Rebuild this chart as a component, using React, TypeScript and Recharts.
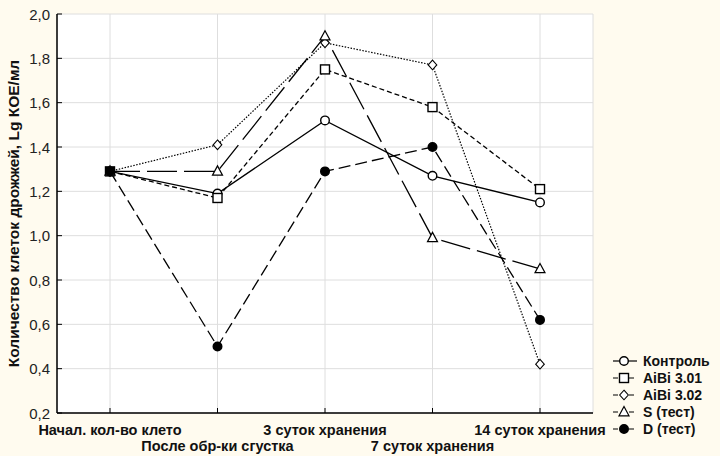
import React from 'react';
import { LineChart, Line, XAxis, YAxis, CartesianGrid } from 'recharts';

const stages = [
  'Начал. кол-во клето',
  'После обр-ки сгустка',
  '3 суток хранения',
  '7 суток хранения',
  '14 суток хранения',
];
const control = [1.29, 1.19, 1.52, 1.27, 1.15];
const aibi301 = [1.29, 1.17, 1.75, 1.58, 1.21];
const aibi302 = [1.29, 1.41, 1.87, 1.77, 0.42];
const sTest = [1.29, 1.29, 1.9, 0.99, 0.85];
const dTest = [1.29, 0.5, 1.29, 1.4, 0.62];
const yTicks = [0.2, 0.4, 0.6, 0.8, 1.0, 1.2, 1.4, 1.6, 1.8, 2.0];

const data = stages.map((name, i) => ({
  name,
  control: control[i],
  aibi301: aibi301[i],
  aibi302: aibi302[i],
  sTest: sTest[i],
  dTest: dTest[i],
}));

type Shape = 'circle' | 'square' | 'diamond' | 'triangle' | 'dot';

const series: { key: string; label: string; shape: Shape; dash?: string }[] = [
  { key: 'control', label: 'Контроль', shape: 'circle' },
  { key: 'aibi301', label: 'AiBi 3.01', shape: 'square', dash: '5 3' },
  { key: 'aibi302', label: 'AiBi 3.02', shape: 'diamond', dash: '1.5 1.5' },
  { key: 'sTest', label: 'S (тест)', shape: 'triangle', dash: '30 7' },
  { key: 'dTest', label: 'D (тест)', shape: 'dot', dash: '12 5' },
];

const font = '"Liberation Sans", Arial, sans-serif';

function Marker({ cx, cy, shape, filled }: { cx: number; cy: number; shape: Shape; filled?: boolean }) {
  const fill = filled || shape === 'dot' ? '#000' : '#fff';
  const sw = 1.4;
  if (shape === 'circle' || shape === 'dot')
    return <circle cx={cx} cy={cy} r={4.3} fill={fill} stroke="#000" strokeWidth={sw} />;
  if (shape === 'square')
    return <rect x={cx - 4.5} y={cy - 4.5} width={9} height={9} fill={fill} stroke="#000" strokeWidth={sw} />;
  if (shape === 'diamond')
    return (
      <polygon
        points={`${cx},${cy - 4.8} ${cx + 4.3},${cy} ${cx},${cy + 4.8} ${cx - 4.3},${cy}`}
        fill={fill}
        stroke="#000"
        strokeWidth={1.1}
      />
    );
  return (
    <polygon
      points={`${cx},${cy - 5.5} ${cx + 5},${cy + 3.8} ${cx - 5},${cy + 3.8}`}
      fill={fill}
      stroke="#000"
      strokeWidth={1.2}
    />
  );
}

const makeDot = (shape: Shape) => (props: any) => {
  const { cx, cy, index } = props;
  return <Marker key={`${shape}-${index}`} cx={cx} cy={cy} shape={shape} filled={shape === 'square' && index === 0} />;
};

function BottomTick(props: any) {
  const { x, y, payload, index } = props;
  const row = index % 2 === 0 ? 22 : 38;
  return (
    <g>
      <line x1={x} y1={y} x2={x} y2={y - 5} stroke="#000" />
      <text x={x} y={y + row} textAnchor="middle" fontFamily={font} fontWeight="bold" fontSize={14.5} fill="#111">
        {payload.value}
      </text>
    </g>
  );
}

function TopTick(props: any) {
  const { x, y } = props;
  return <line x1={x} y1={y} x2={x} y2={y + 5} stroke="#000" />;
}

function LeftTick(props: any) {
  const { x, y, payload } = props;
  return (
    <g>
      <line x1={x} y1={y} x2={x + 5} y2={y} stroke="#000" />
      <text x={x - 7} y={y + 5.5} textAnchor="end" fontFamily={font} fontSize={15} fill="#222">
        {payload.value.toFixed(1).replace('.', ',')}
      </text>
    </g>
  );
}

function RightTick(props: any) {
  const { x, y } = props;
  return <line x1={x} y1={y} x2={x - 5} y2={y} stroke="#000" />;
}

function YTitle(props: any) {
  const { viewBox } = props;
  const cx = 13;
  const cy = viewBox.y + viewBox.height / 2;
  return (
    <text
      x={cx}
      y={cy}
      transform={`rotate(-90 ${cx} ${cy})`}
      textAnchor="middle"
      dominantBaseline="central"
      fontFamily={font}
      fontWeight="bold"
      fontSize={15.5}
      fill="#111"
    >
      Количество клеток дрожжей, Lg КОЕ/мл
    </text>
  );
}

function LegendBox() {
  return (
    <div
      style={{
        position: 'absolute',
        left: 612,
        top: 352,
        fontFamily: font,
        fontWeight: 'bold',
        fontSize: 14,
        color: '#111',
      }}
    >
      {series.map((s) => (
        <div key={s.key} style={{ display: 'flex', alignItems: 'center', height: 17 }}>
          <svg width={26} height={14} style={{ marginRight: 5 }}>
            <line x1={1} y1={7} x2={25} y2={7} stroke="#000" strokeWidth={1.2} strokeDasharray={s.dash ? '5 3' : undefined} />
            <Marker cx={12} cy={7} shape={s.shape} />
          </svg>
          <span>{s.label}</span>
        </div>
      ))}
    </div>
  );
}

export default function App() {
  return (
    <div style={{ position: 'absolute', left: 0, top: 0, width: 720, height: 456, background: '#fffbef' }}>
      <LineChart width={720} height={456} data={data} margin={{ top: 14, right: 127, bottom: 0, left: 0 }}>
        <CartesianGrid stroke="#dedede" fill="#fff" />
        <XAxis
          dataKey="name"
          height={43}
          padding={{ left: 53, right: 53 }}
          tickSize={0}
          tickMargin={0}
          interval={0}
          axisLine={{ stroke: '#000', strokeWidth: 1.5 }}
          tick={<BottomTick />}
        />
        <XAxis
          xAxisId="top"
          dataKey="name"
          orientation="top"
          height={0}
          padding={{ left: 53, right: 53 }}
          tickSize={0}
          tickMargin={0}
          interval={0}
          axisLine={{ stroke: '#000', strokeWidth: 1.5 }}
          tick={<TopTick />}
        />
        <YAxis
          width={57}
          domain={[0.2, 2]}
          ticks={yTicks}
          tickSize={0}
          tickMargin={0}
          interval={0}
          axisLine={{ stroke: '#000', strokeWidth: 1.5 }}
          tick={<LeftTick />}
          label={<YTitle />}
        />
        <YAxis
          yAxisId="right"
          orientation="right"
          width={0}
          domain={[0.2, 2]}
          ticks={yTicks}
          tickSize={0}
          tickMargin={0}
          interval={0}
          axisLine={{ stroke: '#000', strokeWidth: 1.5 }}
          tick={<RightTick />}
        />
        {series.map((s) => (
          <Line
            key={s.key}
            dataKey={s.key}
            name={s.label}
            stroke="#000"
            strokeWidth={s.shape === 'diamond' ? 1.2 : 1.3}
            strokeDasharray={s.dash}
            dot={makeDot(s.shape)}
            activeDot={false}
            isAnimationActive={false}
          />
        ))}
      </LineChart>
      <LegendBox />
    </div>
  );
}
